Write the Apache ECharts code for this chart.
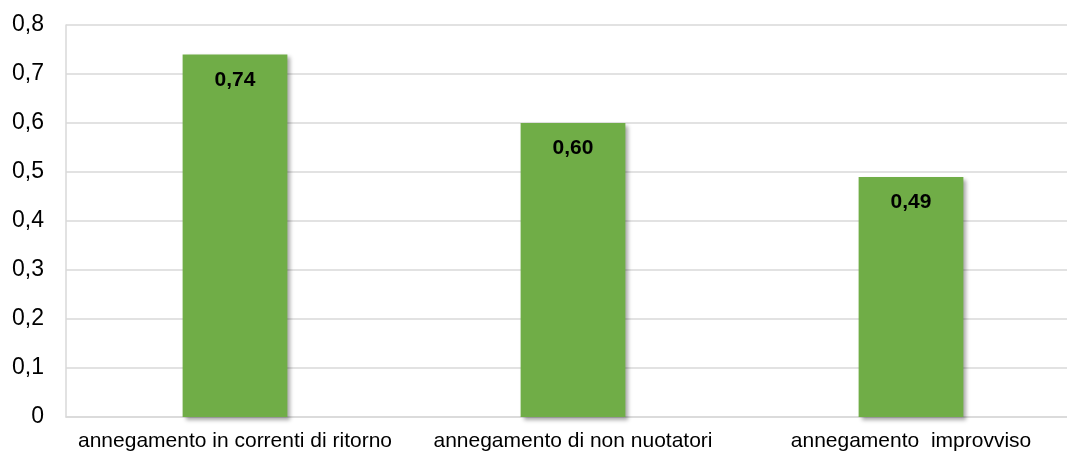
<!DOCTYPE html>
<html>
<head>
<meta charset="utf-8">
<script src="https://cdn.jsdelivr.net/npm/echarts@6/dist/echarts.min.js"></script>
<style>
    html, body { margin: 0; padding: 0; background: #fff; }
    #chart { width: 1067px; height: 455px; }
</style>
</head>
<body>
<div id="chart"></div>
<script>
// dati del grafico
var categories = ['annegamento in correnti di ritorno', 'annegamento di non nuotatori', 'annegamento  improvviso'];
var values = [0.74, 0.60, 0.49];
var yMin = 0, yMax = 0.8, yStep = 0.1;

(function () {
    var myChart = echarts.init(document.getElementById('chart'));

    var option = {
        animation: false,
        grid: {
            left: 66,
            top: 25,
            width: 1014,
            bottom: 38,
            containLabel: false,
            outerBoundsMode: 'none'
        },
        xAxis: {
            type: 'category',
            data: categories,
            axisTick: { show: false },
            axisLine: { lineStyle: { color: '#d9d9d9', width: 1.5 } },
            axisLabel: {
                color: '#000',
                fontFamily: 'Liberation Sans, Arial',
                fontSize: 21,
                margin: 14,
                interval: 0
            }
        },
        yAxis: {
            type: 'value',
            min: yMin,
            max: yMax,
            interval: yStep,
            axisLine: { show: true, lineStyle: { color: '#d9d9d9', width: 1.5 } },
            axisTick: { show: false },
            splitLine: { lineStyle: { color: '#d9d9d9', width: 1.5 } },
            axisLabel: {
                color: '#000',
                fontFamily: 'Liberation Sans, Arial',
                fontSize: 23,
                margin: 22,
                formatter: function (v) {
                    return v === 0 ? '0' : v.toFixed(1).replace('.', ',');
                }
            }
        },
        series: [{
            type: 'bar',
            data: values,
            barWidth: '31%',
            itemStyle: {
                color: '#70ad47',
                shadowColor: 'rgba(0, 0, 0, 0.35)',
                shadowBlur: 4,
                shadowOffsetX: 3,
                shadowOffsetY: 3
            },
            label: {
                show: true,
                position: 'insideTop',
                distance: 15,
                color: '#000',
                fontWeight: 'bold',
                fontFamily: 'Liberation Sans, Arial',
                fontSize: 21,
                formatter: function (p) {
                    return p.value.toFixed(2).replace('.', ',');
                }
            }
        }]
    };

    myChart.setOption(option);
})();
</script>
</body>
</html>
